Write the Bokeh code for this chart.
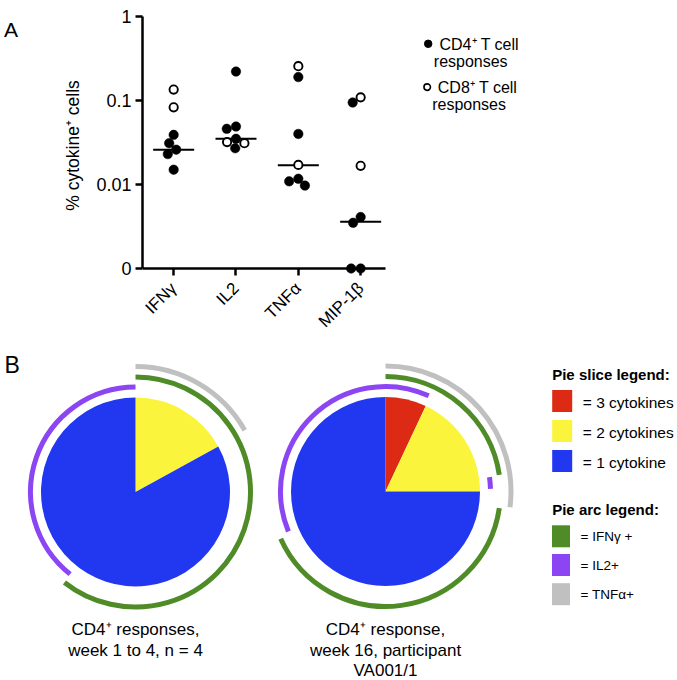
import math
from bokeh.plotting import figure
from bokeh.layouts import column, row
from bokeh.models import FixedTicker, Range1d
from bokeh.core.properties import value
from bokeh.embed import file_html
from bokeh.resources import INLINE

FONT = "Liberation Sans"
VFONT = value(FONT)

# ---------------- Panel A data ----------------
cytokines = ["IFNγ", "IL2", "TNFα", "MIP-1β"]
cd4_ifng = [0.039, 0.031, 0.026, 0.023, 0.015]
cd8_ifng = [0.135, 0.083]
cd4_il2 = [0.221, 0.049, 0.046, 0.035, 0.027]
cd8_il2 = [0.032, 0.031]
cd4_tnfa = [0.19, 0.040, 0.0117, 0.0109, 0.0097]
cd8_tnfa = [0.256, 0.0171]
cd4_mip = [0.0946, 0.0041, 0.0035, 0.0, 0.0]
cd8_mip = [0.109, 0.0167]
medians = [0.026, 0.035, 0.017, 0.0036]
y_tick_values = [0.001, 0.01, 0.1, 1]
y_tick_labels = ["0", "0.01", "0.1", "1"]
legend_a_labels = [("CD4⁺ T cell", "responses"), ("CD8⁺ T cell", "responses")]

# ---------------- Panel B data ----------------
slice_labels = ["= 3 cytokines", "= 2 cytokines", "= 1 cytokine"]
pie1_slices = [0.0, 0.17, 0.83]
pie2_slices = [0.07, 0.18, 0.75]
arc_labels = ["= IFNγ +", "= IL2+", "= TNFα+"]
# arcs as (start, end) fractions, clockwise from 12 o'clock
pie1_ifng = [(0.0, 0.606)]
pie1_il2 = [(0.607, 1.0)]
pie1_tnfa = [(0.0, 0.168)]
pie2_ifng = [(0.0, 0.227), (0.273, 0.6825)]
pie2_il2 = [(0.228, 0.246), (0.6878, 1.0675)]
pie2_tnfa = [(0.0, 0.27)]
pie_captions = [["CD4⁺ responses,", "week 1 to 4, n = 4"],
                ["CD4⁺ response,", "week 16, participant", "VA001/1"]]

slice_colors = ["#DC2A14", "#FAF53C", "#2238F0"]
arc_colors = ["#4F8C27", "#8B45F3", "#C0C0C0"]

# ---------------- layout (page origin at top-left) ----------------
PAGE_W = 677
TOP_H = 340
L_W = 92
A_W = 316
LEG_W = PAGE_W - L_W - A_W
B_W, B_H = PAGE_W, 340


def px_fig(w, h):
    p = figure(width=w, height=h, x_range=Range1d(0, w), y_range=Range1d(0, h),
               x_axis_location=None, y_axis_location=None, min_border=0,
               toolbar_location=None, output_backend="svg")
    p.outline_line_color = None
    p.grid.visible = False
    return p


# ---- left strip: "A" and y-axis label ----
pL = px_fig(L_W, TOP_H)
lx = lambda px: px
ly = lambda py: TOP_H - py
pL.text(x=[lx(3.5)], y=[ly(14)], text=["A"], text_font=VFONT, text_font_size="21px",
        text_align="left", text_baseline="middle", text_color="black")
pL.text(x=[lx(72.5)], y=[ly(137)], text=["% cytokine⁺ cells"], angle=math.pi / 2,
        text_font=VFONT, text_font_size="17.5px", text_align="center",
        text_baseline="middle", text_color="black")

# ---- panel A scatter ----
MB_L, MB_R, MB_T, MB_B = 50, 0, 16, 4
frame_w = A_W - MB_L - MB_R
frame_h = TOP_H - MB_T - MB_B
PX_CAT, PX_DEC = 62.33, 84.0
X0 = -0.5
X1 = X0 + frame_w / PX_CAT
Y1 = 1.0
Y0 = 10 ** (-frame_h / PX_DEC)
pA = figure(width=A_W, height=TOP_H, x_range=Range1d(X0, X1), y_range=Range1d(Y0, Y1),
            y_axis_type="log", min_border_left=MB_L, min_border_right=MB_R,
            min_border_top=MB_T, min_border_bottom=MB_B,
            toolbar_location=None, output_backend="svg")
pA.outline_line_color = None
pA.grid.visible = False

px_per_cat = frame_w / (X1 - X0)
px_per_dec = frame_h / (math.log10(Y1) - math.log10(Y0))
floor_val = y_tick_values[0]

D = 9.5  # marker spacing in px


def swarm(ys_px, d):
    order = sorted(range(len(ys_px)), key=lambda i: -ys_px[i])
    placed = {}
    for i in order:
        y = ys_px[i]
        cands = [0.0]
        for (qx, qy) in placed.values():
            dy = abs(y - qy)
            if dy < d:
                dx = math.sqrt(d * d - dy * dy)
                cands += [qx + dx, qx - dx]
        ok = [c for c in cands
              if all((c - qx) ** 2 + (y - qy) ** 2 >= d * d - 1e-6 for (qx, qy) in placed.values())]
        best = min(ok, key=lambda c: (round(abs(c), 6), c))
        placed[i] = (best, y)
    return [placed[i][0] for i in range(len(ys_px))]


groups = [(cd4_ifng, cd8_ifng), (cd4_il2, cd8_il2), (cd4_tnfa, cd8_tnfa), (cd4_mip, cd8_mip)]
fx, fy, ox, oy = [], [], [], []
for ci, (c4, c8) in enumerate(groups):
    vals = [max(v, floor_val) for v in c4] + [max(v, floor_val) for v in c8]
    kinds = [4] * len(c4) + [8] * len(c8)
    ypx = [math.log10(v) * px_per_dec for v in vals]
    offs = swarm(ypx, D)
    for v, k, o in zip(vals, kinds, offs):
        xx = ci + o / px_per_cat
        if k == 4:
            fx.append(xx); fy.append(v)
        else:
            ox.append(xx); oy.append(v)

half = 20.5 / px_per_cat
pA.segment(x0=[i - half for i in range(len(medians))], x1=[i + half for i in range(len(medians))],
           y0=medians, y1=medians, line_color="black", line_width=2)
pA.scatter(x=fx, y=fy, size=9.5, marker="circle", fill_color="black", line_color="black", line_width=0.5)
pA.scatter(x=ox, y=oy, size=8.3, marker="circle", fill_color="white", line_color="black", line_width=1.9)

xa = pA.xaxis[0]
ya = pA.yaxis[0]
xa.ticker = FixedTicker(ticks=list(range(len(cytokines))))
xa.major_label_overrides = {i: c for i, c in enumerate(cytokines)}
xa.major_label_orientation = math.pi / 4
xa.fixed_location = floor_val
xa.bounds = (X0, 3.4)
ya.ticker = FixedTicker(ticks=y_tick_values)
ya.major_label_overrides = dict(zip(y_tick_values, y_tick_labels))
ya.bounds = (y_tick_values[0], y_tick_values[-1])
for ax in (xa, ya):
    ax.axis_line_width = 2.5
    ax.axis_line_color = "black"
    ax.major_tick_line_width = 2.5
    ax.major_tick_line_color = "black"
    ax.major_tick_out = 7
    ax.major_tick_in = 0
    ax.minor_tick_line_color = None
    ax.major_label_text_font = FONT
    ax.major_label_text_color = "black"
xa.major_label_text_font_size = "17px"
ya.major_label_text_font_size = "18px"
xa.major_label_standoff = 10
ya.major_label_standoff = 4

# ---- legend for panel A ----
pG = px_fig(LEG_W, TOP_H)
gx = lambda px: px - (L_W + A_W)
gy = lambda py: TOP_H - py
pG.scatter(x=[gx(427.7)], y=[gy(29)], size=7.5, marker="circle", fill_color="black", line_color="black")
pG.scatter(x=[gx(426.7)], y=[gy(75)], size=6.5, marker="circle", fill_color="white", line_color="black", line_width=1.6)
pG.text(x=[gx(439), gx(433.3), gx(437.3), gx(431.7)], y=[gy(29.3), gy(48.3), gy(75), gy(94)],
        text=[legend_a_labels[0][0], legend_a_labels[0][1], legend_a_labels[1][0], legend_a_labels[1][1]],
        text_font=VFONT, text_font_size="16px", text_align="left", text_baseline="middle", text_color="black")

# ---- panel B ----
pB = px_fig(B_W, B_H)
bx = lambda px: px
by = lambda py: (TOP_H + B_H) - py

pB.text(x=[bx(4)], y=[by(364)], text=["B"], text_font=VFONT, text_font_size="23px",
        text_align="left", text_baseline="middle", text_color="black")

PIE_R = 94.5
RING_R = [115, 105, 125.5]   # IFNγ, IL2, TNFα
centers = [(135, 491.5), (385, 491)]
pies = [pie1_slices, pie2_slices]
arcs = [[pie1_ifng, pie1_il2, pie1_tnfa], [pie2_ifng, pie2_il2, pie2_tnfa]]


def ang(f):
    return math.pi / 2 - 2 * math.pi * f


for (cxp, cyp), slices, arcsets in zip(centers, pies, arcs):
    cx, cy = bx(cxp), by(cyp)
    cum = 0.0
    for frac, col in zip(slices, slice_colors):
        if frac > 0:
            pB.wedge(x=[cx], y=[cy], radius=PIE_R, start_angle=[ang(cum)], end_angle=[ang(cum + frac)],
                     direction="clock", fill_color=col, line_color=None)
        cum += frac
    for segs, col, rr in zip(arcsets, arc_colors, RING_R):
        pB.arc(x=[cx] * len(segs), y=[cy] * len(segs), radius=rr,
               start_angle=[ang(s) for s, e in segs], end_angle=[ang(e) for s, e in segs],
               direction="clock", line_color=col, line_width=5)

cap_y = [629, 649.5, 669.5]
for (cxp, _), lines in zip(centers, pie_captions):
    pB.text(x=[bx(cxp)] * len(lines), y=[by(cap_y[i]) for i in range(len(lines))], text=lines,
            text_font=VFONT, text_font_size="17px", text_align="center", text_baseline="middle",
            text_color="black")

# legend B
pB.text(x=[bx(551.7), bx(551.7)], y=[by(373.5), by(509)], text=["Pie slice legend:", "Pie arc legend:"],
        text_font=VFONT, text_font_size="15px", text_font_style="bold", text_align="left",
        text_baseline="middle", text_color="black")
sl_y = [400.5, 430.5, 460.5]
pB.rect(x=[bx(561.7)] * 3, y=[by(v) for v in sl_y], width=20, height=22,
        fill_color=slice_colors, line_color=None)
pB.text(x=[bx(582.3)] * 3, y=[by(v + 1) for v in sl_y], text=slice_labels,
        text_font=VFONT, text_font_size="15.5px", text_align="left", text_baseline="middle", text_color="black")
ar_y = [535.8, 564.5, 593.7]
pB.rect(x=[bx(560.5)] * 3, y=[by(v) for v in ar_y], width=18, height=22,
        fill_color=arc_colors, line_color=None)
pB.text(x=[bx(580)] * 3, y=[by(v) for v in ar_y], text=arc_labels,
        text_font=VFONT, text_font_size="13.5px", text_align="left", text_baseline="middle", text_color="black")

layout = column(row(pL, pA, pG), pB)
open("out.html", "w").write(file_html(layout, INLINE))
